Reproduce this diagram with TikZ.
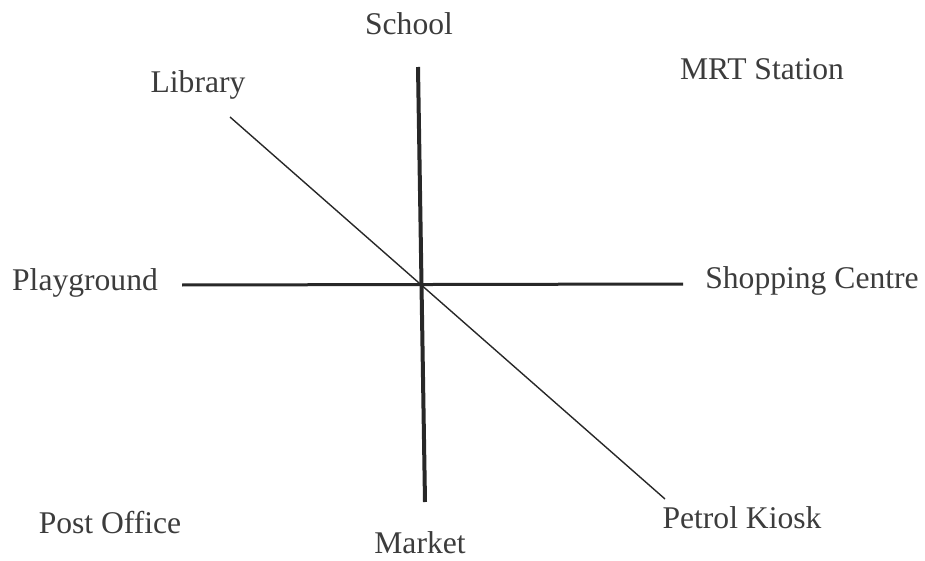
\documentclass[tikz,border=0pt]{standalone}
\usepackage{fontspec}
\setmainfont{Liberation Serif}
\usetikzlibrary{positioning}
\definecolor{inkgray}{RGB}{40, 40, 40}
\definecolor{textgray}{RGB}{60, 60, 60}

\begin{document}
\begin{tikzpicture}[x=0.5pt, y=-0.5pt,
  every node/.style={font=\fontsize{15.8pt}{18pt}\selectfont, text=textgray,
                     inner sep=0pt, anchor=base},
  mainline/.style={draw=inkgray, line width=2pt},
  crossline/.style={draw=inkgray, line width=1.5pt},
  diagline/.style={draw=inkgray, line width=0.7pt}]

\useasboundingbox (0,0) rectangle (925,561);

% Places round the crossing
\node (school)   at (409, 35)  {School};
\node (mrt)      at (762, 80)  {MRT Station};
\node (library)  at (198, 93)  {Library};
\node (play)     at (85, 290)  {Playground};
\node (shop)     at (812, 288) {Shopping Centre};
\node (post)     at (110, 533) {Post Office};
\node (market)   at (420, 553) {Market};
\node (petrol)   at (742, 528) {Petrol Kiosk};

% Line ends
\coordinate (vTop) at (418, 67);
\coordinate (vBot) at (425, 502);
\coordinate (hLeft) at (182, 285);
\coordinate (hRight) at (683, 284);
\coordinate (dTop) at (230, 117);
\coordinate (dBot) at (665, 499);

\draw[mainline] (vTop) -- (vBot);
\draw[crossline] (hLeft) -- (hRight);
\draw[diagline] (dTop) -- (dBot);

\end{tikzpicture}
\end{document}
